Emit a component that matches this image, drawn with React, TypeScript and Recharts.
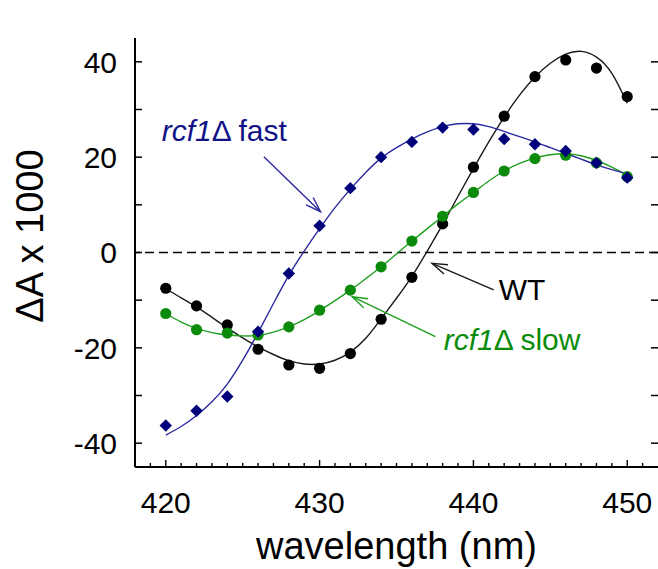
import React from 'react';
import {
  ComposedChart,
  Line,
  Scatter,
  XAxis,
  YAxis,
  ReferenceLine,
  ReferenceDot,
  Customized,
} from 'recharts';

// ---- measured points (every 2 nm) ----
const pointWavelengths = [420, 422, 424, 426, 428, 430, 432, 434, 436, 438, 440, 442, 444, 446, 448, 450];
const wtPoints = [-7.5, -11.2, -15.2, -20.3, -23.6, -24.3, -21.2, -14.0, -5.2, 6.0, 17.9, 28.6, 36.9, 40.4, 38.7, 32.7];
const slowPoints = [-12.8, -16.2, -16.9, -17.3, -15.6, -12.1, -7.9, -3.0, 2.4, 7.6, 12.6, 17.1, 19.7, 20.4, 18.8, 15.9];
const fastPoints = [-36.3, -33.2, -30.2, -16.6, -4.4, 5.6, 13.5, 20.0, 23.2, 26.2, 25.8, 23.8, 22.7, 21.3, 18.8, 15.7];

// ---- fitted curves (read every 1 nm) ----
const fitWavelengths = [420, 421, 422, 423, 424, 425, 426, 427, 428, 429, 430, 431, 432, 433, 434, 435, 436, 437, 438, 439, 440, 441, 442, 443, 444, 445, 446, 447, 448, 449, 450];
const wtFit = [-7.6, -9.5, -11.4, -13.6, -15.8, -17.9, -19.8, -21.4, -22.7, -23.4, -23.4, -22.6, -20.9, -18.0, -13.9, -9.6, -5.0, 0.3, 5.9, 11.8, 17.6, 23.2, 28.4, 33.0, 36.8, 39.7, 41.6, 42.2, 41.0, 37.6, 31.3];
const slowFit = [-12.8, -14.6, -15.9, -16.8, -17.3, -17.5, -17.4, -16.7, -15.6, -14.1, -12.2, -10.1, -7.9, -5.5, -3.0, -0.3, 2.4, 5.0, 7.6, 10.2, 12.6, 15.0, 17.1, 18.7, 19.8, 20.5, 20.7, 20.3, 19.3, 17.9, 16.2];
const fastFit = [-38.3, -36.5, -34.2, -31.3, -27.6, -22.6, -16.8, -10.7, -4.8, 0.3, 5.0, 9.4, 13.3, 16.8, 19.8, 22.0, 23.8, 25.3, 26.4, 27.0, 27.0, 26.4, 25.4, 24.3, 23.2, 22.0, 20.8, 19.6, 18.4, 17.4, 16.5];

// ---- ticks ----
const xTicks = [419, 420, 421, 422, 423, 424, 425, 426, 427, 428, 429, 430, 431, 432, 433, 434, 435, 436, 437, 438, 439, 440, 441, 442, 443, 444, 445, 446, 447, 448, 449, 450, 451];
const xLabelTicks = [420, 430, 440, 450];
const yTicks = [-40, -30, -20, -10, 0, 10, 20, 30, 40];
const yLabelTicks = [-40, -20, 0, 20, 40];

const xDomain = [418, 452];
const yDomain = [-45, 45];

const fitData = fitWavelengths.map((w, i) => ({ w, wt: wtFit[i], slow: slowFit[i], fast: fastFit[i] }));
const wtData = pointWavelengths.map((w, i) => ({ w, v: wtPoints[i] }));
const slowData = pointWavelengths.map((w, i) => ({ w, v: slowPoints[i] }));
const fastData = pointWavelengths.map((w, i) => ({ w, v: fastPoints[i] }));

const FONT = '"Liberation Sans", Arial, Helvetica, sans-serif';
const BLUE_PT = '#00007a';
const BLUE_LN = '#2a2aa0';
const BLUE_TX = '#121288';
const GREEN_PT = '#0b8a0b';
const GREEN_LN = '#1f9e1f';
const GREEN_TX = '#0a8c0a';

const YTick = (props: any) => {
  const { x, y, payload } = props;
  const v = payload.value;
  return (
    <g>
      <line x1={x} x2={x + 7} y1={y} y2={y} stroke="#000" strokeWidth={1.5} />
      {yLabelTicks.includes(v) && (
        <text x={x - 18} y={y} dy="0.36em" textAnchor="end" fontSize={30} fontFamily={FONT} fill="#000">
          {v}
        </text>
      )}
    </g>
  );
};

const RightTick = (props: any) => {
  const { x, y } = props;
  return <line x1={x} x2={x - 7} y1={y} y2={y} stroke="#000" strokeWidth={1.5} />;
};

const XTick = (props: any) => {
  const { x, y, payload } = props;
  const v = payload.value;
  const major = xLabelTicks.includes(v);
  return (
    <g>
      <line x1={x} x2={x} y1={y} y2={y - (major ? 7 : 4)} stroke="#000" strokeWidth={1.4} />
      {major && (
        <text x={x} y={y + 46} textAnchor="middle" fontSize={30} fontFamily={FONT} fill="#000">
          {v}
        </text>
      )}
    </g>
  );
};

const makeArrow = (color: string) => (props: any) => {
  const { x1, y1, x2, y2 } = props;
  const ang = Math.atan2(y2 - y1, x2 - x1);
  const L = 16;
  const a = 0.32;
  const p1x = x2 - L * Math.cos(ang - a);
  const p1y = y2 - L * Math.sin(ang - a);
  const p2x = x2 - L * Math.cos(ang + a);
  const p2y = y2 - L * Math.sin(ang + a);
  return (
    <g>
      <line x1={x1} y1={y1} x2={x2} y2={y2} stroke={color} strokeWidth={1.4} />
      <polyline points={`${p1x},${p1y} ${x2},${y2} ${p2x},${p2y}`} fill="none" stroke={color} strokeWidth={1.4} />
    </g>
  );
};

const makeLabel = (color: string, italic: string, rest: string) => (props: any) => (
  <text x={props.cx} y={props.cy} fontSize={30} fontFamily={FONT} fill={color}>
    {italic && <tspan fontStyle="italic">{italic}</tspan>}
    <tspan>{rest}</tspan>
  </text>
);

const circleShape = (color: string) => (props: any) => (
  <circle cx={props.cx} cy={props.cy} r={5.6} fill={color} />
);
const diamondShape = (color: string) => (props: any) => {
  const { cx, cy } = props;
  const s = 6.2;
  return <polygon points={`${cx},${cy - s} ${cx + s},${cy} ${cx},${cy + s} ${cx - s},${cy}`} fill={color} />;
};

const Titles = () => (
  <g>
    <text x={396.5} y={559} textAnchor="middle" fontSize={38} fontFamily={FONT} fill="#000">
      wavelength (nm)
    </text>
    <text
      x={43}
      y={236}
      transform="rotate(-90 43 236)"
      textAnchor="middle"
      fontSize={38}
      fontFamily={FONT}
      fill="#000"
    >
      ΔA x 1000
    </text>
  </g>
);

export default function App() {
  return (
    <div style={{ position: 'absolute', left: 0, top: 0, background: '#fff' }}>
      <ComposedChart
        width={658}
        height={569}
        data={fitData}
        margin={{ top: 38, right: -1, bottom: 0, left: 0 }}
      >
        <XAxis
          dataKey="w"
          type="number"
          domain={xDomain}
          ticks={xTicks}
          interval={0}
          height={102}
          tickSize={0}
          tickMargin={0}
          tickLine={false}
          tick={<XTick />}
          axisLine={{ stroke: '#000', strokeWidth: 2 }}
          allowDataOverflow
        />
        <YAxis
          type="number"
          domain={yDomain}
          ticks={yTicks}
          interval={0}
          width={135}
          tickSize={0}
          tickMargin={0}
          tickLine={false}
          tick={<YTick />}
          axisLine={{ stroke: '#000', strokeWidth: 2 }}
          allowDataOverflow
        />
        <YAxis
          yAxisId="right"
          orientation="right"
          type="number"
          domain={yDomain}
          ticks={yTicks}
          interval={0}
          width={1}
          tickSize={0}
          tickMargin={0}
          tick={<RightTick />}
          tickLine={false}
          axisLine={false}
          allowDataOverflow
        />
        <ReferenceLine yAxisId="right" y={0} stroke="#000" strokeWidth={1.4} strokeDasharray="9 5" />

        <Line dataKey="wt" type="natural" stroke="#1a1a1a" strokeWidth={1.4} dot={false} isAnimationActive={false} />
        <Scatter data={wtData} dataKey="v" shape={circleShape('#000')} isAnimationActive={false} />
        <Line dataKey="slow" type="natural" stroke={GREEN_LN} strokeWidth={1.4} dot={false} isAnimationActive={false} />
        <Scatter data={slowData} dataKey="v" shape={circleShape(GREEN_PT)} isAnimationActive={false} />
        <Line dataKey="fast" type="natural" stroke={BLUE_LN} strokeWidth={1.4} dot={false} isAnimationActive={false} />
        <Scatter data={fastData} dataKey="v" shape={diamondShape(BLUE_PT)} isAnimationActive={false} />

        <ReferenceLine segment={[{ x: 426.38, y: 20.1 }, { x: 430.06, y: 8.55 }]} shape={makeArrow(BLUE_LN)} />
        <ReferenceLine segment={[{ x: 441.32, y: -7.86 }, { x: 437.31, y: -2.26 }]} shape={makeArrow('#1a1a1a')} />
        <ReferenceLine segment={[{ x: 437.53, y: -17.65 }, { x: 432.12, y: -9.27 }]} shape={makeArrow(GREEN_LN)} />

        <ReferenceDot x={419.74} y={23.4} r={0} shape={makeLabel(BLUE_TX, 'rcf1', 'Δ fast')} />
        <ReferenceDot x={441.64} y={-9.96} r={0} shape={makeLabel('#000', '', 'WT')} />
        <ReferenceDot x={438.07} y={-20.45} r={0} shape={makeLabel(GREEN_TX, 'rcf1', 'Δ slow')} />

        <Customized component={Titles} />
      </ComposedChart>
    </div>
  );
}
